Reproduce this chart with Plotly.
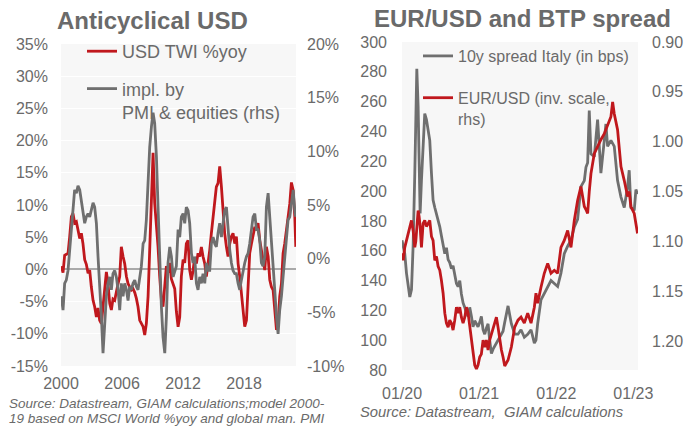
import plotly.graph_objects as go

# ---------------- Left chart: Anticyclical USD ----------------
left_years = [
    2000.03, 2000.2, 2000.36, 2000.52, 2000.69, 2000.85, 2001.02, 2001.18, 2001.34, 2001.51,
    2001.67, 2001.84, 2002.0, 2002.16, 2002.33, 2002.49, 2002.66, 2002.82, 2002.98, 2003.15,
    2003.31, 2003.48, 2003.64, 2003.8, 2003.97, 2004.13, 2004.3, 2004.46, 2004.62, 2004.79,
    2004.95, 2005.11, 2005.28, 2005.44, 2005.61, 2005.77, 2005.93, 2006.1, 2006.26, 2006.43,
    2006.59, 2006.75, 2006.92, 2007.08, 2007.25, 2007.41, 2007.57, 2007.74, 2007.9, 2008.07,
    2008.23, 2008.39, 2008.56, 2008.72, 2008.89, 2009.05, 2009.21, 2009.38, 2009.54, 2009.7,
    2009.87, 2010.03, 2010.2, 2010.36, 2010.52, 2010.69, 2010.85, 2011.02, 2011.18, 2011.34,
    2011.51, 2011.67, 2011.83, 2012.0, 2012.16, 2012.32, 2012.49, 2012.65, 2012.82, 2012.98,
    2013.14, 2013.31, 2013.47, 2013.64, 2013.8, 2013.96, 2014.13, 2014.29, 2014.46, 2014.62,
    2014.78, 2014.95, 2015.11, 2015.27, 2015.44, 2015.6, 2015.77, 2015.93, 2016.09, 2016.26,
    2016.42, 2016.59, 2016.75, 2016.91, 2017.08, 2017.24, 2017.41, 2017.57, 2017.73, 2017.9,
    2018.06, 2018.23, 2018.39, 2018.55, 2018.72, 2018.88, 2019.05, 2019.21, 2019.37, 2019.54,
    2019.7, 2019.86, 2020.03, 2020.19, 2020.36, 2020.52, 2020.68, 2020.85, 2021.01, 2021.18,
    2021.34, 2021.5, 2021.67, 2021.83, 2021.99, 2022.16, 2022.32, 2022.49, 2022.65, 2022.82,
    2022.98, 2023.08,
]
usd_twi_yoy = [
    0.5, -0.5, 2.2, 2.4, 2.5, 5.0, 8.2, 8.7, 7.2, 7.4,
    6.1, 4.8, 5.6, 4.0, 1.5, 0.8, -0.6, -0.1, -2.7, -4.8,
    -5.8, -7.4, -6.0, -7.9, -8.4, -5.8, -4.2, -0.4, -2.2, -5.3,
    -6.3, -4.6, -4.8, -3.2, -2.2, -1.1, 3.5, 2.0, 0.9, -1.1,
    -2.2, -2.7, -3.2, -3.0, -3.6, -4.5, -5.8, -7.9, -8.4, -8.9,
    -10.2, -8.4, -4.2, 3.5, 9.7, 18.1, 10.3, 7.2, 3.5, -1.1,
    -4.8, -5.8, -3.0, 0.5, -0.5, 1.0, -1.5, -2.5, -3.0, -6.5,
    -8.9, -7.4, -1.1, 1.5, 1.0, 4.0, 4.5, -0.1, -1.6, -0.2,
    1.9, 0.9, 2.5, 2.0, 3.5, 2.0, 0.9, -1.1, 0.9, 3.0,
    5.6, 8.2, 11.3, 12.8, 13.4, 16.0, 12.8, 8.2, 5.6, 3.5,
    2.0, 4.0, 5.1, 5.6, 4.0, 5.1, 0.9, -1.1, -3.7, -5.3,
    -8.9, -7.9, -2.7, 2.5, 4.0, 5.1, 6.6, 6.1, 7.2, 4.5,
    3.0, 2.0, -0.1, 3.5, 2.0, -1.6, -2.7, -3.2, -6.3, -9.4,
    -8.4, -4.2, -2.2, 2.5, 4.0, 6.1, 8.2, 10.2, 13.5, 12.3,
    8.2, 3.5,
]
impl_pmi_equities = [
    -3.5, -4.8, -2.3, -2.0, -1.1, 0.8, 2.7, 4.8, 6.4, 6.1,
    6.8, 6.4, 5.5, 4.5, 3.3, 3.9, 4.2, 3.9, 4.5, 5.2,
    4.8, 3.3, 0.2, -2.3, -5.4, -8.8, -6.0, -3.5, -2.3, -1.7,
    -2.9, -1.4, -1.1, -1.7, -2.9, -4.8, -2.3, -3.5, -2.3, -2.9,
    -3.9, -2.6, -2.9, -2.3, -2.0, -2.6, -2.9, -1.7, -0.7, 1.4,
    1.7, 3.6, 7.3, 10.4, 12.3, 13.6, 12.6, 9.5, 4.8, -0.4,
    -4.5, -7.3, -8.8, -5.4, -0.4, 1.1, 0.2, -1.7, -1.1, -0.7,
    2.7, 2.0, 3.9, 4.2, 3.3, 4.8, 4.5, 3.3, 0.5, -0.4,
    0.2, -2.3, -2.9, -1.7, -2.3, -1.4, -2.3, -0.4, -1.1, -1.1,
    1.4, 2.0, 1.4, 1.1, 2.4, 3.3, 2.0, 3.3, 4.5, 4.8,
    2.7, 0.8, -0.4, -1.1, -1.4, -1.4, -2.3, -2.9, -2.0, -1.1,
    -0.4, 0.2, 0.5, 1.4, 2.7, 3.9, 4.2, 2.7, 2.7, 1.7,
    -0.4, -0.7, 0.2, 4.8, 6.1, 3.9, 1.7, 0.2, -2.9, -5.4,
    -7.0, -4.8, -3.5, -1.7, -0.1, 2.0, 3.6, 3.9, 5.2, 6.4,
    4.5, 3.9,
]
left_xtick_vals = [2000, 2006, 2012, 2018]
left_xtick_text = ["2000", "2006", "2012", "2018"]
left_ytick_vals = [-15, -10, -5, 0, 5, 10, 15, 20, 25, 30, 35]
left_ytick_text = ["-15%", "-10%", "-5%", "0%", "5%", "10%", "15%", "20%", "25%", "30%", "35%"]
left_y2tick_vals = [-10, -5, 0, 5, 10, 15, 20]
left_y2tick_text = ["-10%", "-5%", "0%", "5%", "10%", "15%", "20%"]

# ---------------- Right chart: EUR/USD and BTP spread ----------------
right_dates = [
    2020.0, 2020.015, 2020.036, 2020.058, 2020.08, 2020.101, 2020.123, 2020.144, 2020.166, 2020.179,
    2020.192, 2020.209, 2020.222, 2020.235, 2020.252, 2020.274, 2020.295, 2020.317, 2020.339, 2020.36,
    2020.382, 2020.403, 2020.425, 2020.447, 2020.468, 2020.49, 2020.511, 2020.533, 2020.555, 2020.576,
    2020.598, 2020.619, 2020.641, 2020.662, 2020.684, 2020.706, 2020.727, 2020.749, 2020.77, 2020.792,
    2020.814, 2020.835, 2020.857, 2020.878, 2020.9, 2020.921, 2020.943, 2020.965, 2020.986, 2021.008,
    2021.029, 2021.051, 2021.073, 2021.094, 2021.116, 2021.137, 2021.159, 2021.181, 2021.202, 2021.224,
    2021.245, 2021.267, 2021.289, 2021.31, 2021.332, 2021.353, 2021.375, 2021.418, 2021.461, 2021.504,
    2021.543, 2021.586, 2021.63, 2021.673, 2021.716, 2021.737, 2021.759, 2021.802, 2021.845, 2021.889,
    2021.932, 2021.975, 2022.018, 2022.061, 2022.104, 2022.148, 2022.191, 2022.234, 2022.277, 2022.32,
    2022.364, 2022.385, 2022.407, 2022.428, 2022.45, 2022.493, 2022.536, 2022.558, 2022.579, 2022.623,
    2022.644, 2022.666, 2022.709, 2022.731, 2022.752, 2022.795, 2022.839, 2022.882, 2022.925, 2022.946,
    2022.968, 2023.011, 2023.033, 2023.054,
]
btp_spread_bps = [
    167, 163, 158, 145, 136, 129, 134, 163, 212, 245,
    282, 257, 201, 185, 207, 234, 252, 248, 239, 234,
    212, 194, 189, 185, 181, 176, 170, 164, 158, 162,
    154, 152, 148, 150, 144, 138, 136, 140, 131, 125,
    122, 118, 116, 122, 116, 109, 113, 111, 109, 112,
    116, 107, 104, 108, 111, 100, 91, 94, 96, 98,
    100, 102, 104, 106, 112, 118, 123, 111, 104, 104,
    107, 102, 104, 107, 98, 100, 111, 127, 131, 136,
    140, 138, 136, 145, 158, 163, 167, 176, 181, 203,
    207, 216, 219, 254, 225, 223, 248, 230, 212, 234,
    245, 230, 234, 232, 230, 207, 196, 189, 203, 214,
    189, 187, 201, 198,
]
eurusd = [
    1.112, 1.119, 1.106, 1.099, 1.092, 1.085, 1.079, 1.089, 1.106, 1.100,
    1.085, 1.069, 1.075, 1.085, 1.106, 1.082, 1.079, 1.085, 1.082, 1.079,
    1.095, 1.099, 1.119, 1.115, 1.125, 1.129, 1.139, 1.152, 1.172, 1.182,
    1.186, 1.179, 1.182, 1.189, 1.179, 1.166, 1.172, 1.166, 1.176, 1.182,
    1.176, 1.166, 1.172, 1.186, 1.199, 1.213, 1.224, 1.228, 1.224, 1.216,
    1.213, 1.199, 1.206, 1.199, 1.209, 1.199, 1.193, 1.186, 1.182, 1.176,
    1.186, 1.199, 1.209, 1.216, 1.225, 1.222, 1.219, 1.206, 1.186, 1.179,
    1.176, 1.182, 1.172, 1.182, 1.166, 1.152, 1.162, 1.146, 1.132, 1.122,
    1.132, 1.129, 1.132, 1.106, 1.099, 1.089, 1.106, 1.079, 1.059, 1.045,
    1.065, 1.068, 1.072, 1.050, 1.032, 1.012, 1.005, 1.000, 0.998, 0.992,
    0.988, 0.985, 0.975, 0.960, 0.972, 0.988, 1.025, 1.039, 1.055, 1.050,
    1.065, 1.072, 1.085, 1.092,
]
right_xtick_vals = [2020, 2021, 2022, 2023]
right_xtick_text = ["01/20", "01/21", "01/22", "01/23"]
right_ytick_vals = [80, 100, 120, 140, 160, 180, 200, 220, 240, 260, 280, 300]
right_y2tick_vals = [0.90, 0.95, 1.00, 1.05, 1.10, 1.15, 1.20]

# ---------------- styling ----------------
W, H = 686, 426
FONT = "Liberation Sans, Arial, sans-serif"
TXT = "#6a6a6a"
RED = "#c0181d"
GRAY = "#6f6f6f"
BG = "#f7f7f7"

def px_x(p):
    return p / W

def px_y(p):
    return 1 - p / H

fig = go.Figure()

fig.add_trace(go.Scatter(x=left_years, y=usd_twi_yoy, mode="lines", name="USD TWI %yoy",
                         line=dict(color=RED, width=2.8), xaxis="x", yaxis="y",
                         legend="legend", legendgroup="a"))
fig.add_trace(go.Scatter(x=left_years, y=impl_pmi_equities, mode="lines",
                         name="impl. by<br>PMI & equities (rhs)",
                         line=dict(color=GRAY, width=2.8), xaxis="x", yaxis="y2",
                         legend="legend", legendgroup="b"))
fig.add_trace(go.Scatter(x=right_dates, y=btp_spread_bps, mode="lines", name="10y spread Italy (in bps)",
                         line=dict(color=GRAY, width=2.8), xaxis="x2", yaxis="y3",
                         legend="legend2", legendgroup="c"))
fig.add_trace(go.Scatter(x=right_dates, y=eurusd, mode="lines", name="EUR/USD (inv. scale,<br>rhs)",
                         line=dict(color=RED, width=2.8), xaxis="x2", yaxis="y4",
                         legend="legend2", legendgroup="d"))

tickfont = dict(family=FONT, size=16, color=TXT)
common = dict(showgrid=False, zeroline=False, showline=False, ticks="", tickfont=tickfont,
              automargin=False, tickmode="array")

fig.update_layout(
    width=W, height=H,
    margin=dict(l=0, r=0, t=0, b=0, autoexpand=False),
    paper_bgcolor="white",
    plot_bgcolor=BG,
    font=dict(family=FONT, color=TXT),
    xaxis=dict(common, domain=[px_x(61), px_x(296)], anchor="y", range=[2000, 2023.1],
               tickvals=left_xtick_vals, ticktext=left_xtick_text, ticklabelstandoff=6),
    yaxis=dict(common, domain=[px_y(366), px_y(44)], anchor="x", range=[-15, 35],
               tickvals=left_ytick_vals, ticktext=left_ytick_text,
               showgrid=True, gridcolor="white", gridwidth=1,
               zeroline=True, zerolinecolor="#a9a9a9", zerolinewidth=1.5,
               ticklabelstandoff=12),
    yaxis2=dict(common, overlaying="y", side="right", anchor="x", range=[-10, 20],
                tickvals=left_y2tick_vals, ticktext=left_y2tick_text, ticklabelstandoff=10),
    xaxis2=dict(common, domain=[px_x(402), px_x(638)], anchor="y3", range=[2020, 2023.06],
                tickvals=right_xtick_vals, ticktext=right_xtick_text, ticklabelstandoff=12),
    yaxis3=dict(common, domain=[px_y(370), px_y(42)], anchor="x2", range=[80, 300],
                tickvals=right_ytick_vals, ticklabelstandoff=14),
    yaxis4=dict(common, overlaying="y3", side="right", anchor="x2", range=[1.229, 0.9],
                tickvals=right_y2tick_vals, tickformat=".2f", ticklabelstandoff=13),
    legend=dict(x=px_x(82), y=px_y(33), xanchor="left", yanchor="top",
                bgcolor="rgba(0,0,0,0)", font=dict(family=FONT, size=18, color=TXT),
                tracegroupgap=11, valign="top", itemwidth=30),
    legend2=dict(x=px_x(418), y=px_y(39), xanchor="left", yanchor="top",
                 bgcolor="rgba(0,0,0,0)", font=dict(family=FONT, size=16, color=TXT),
                 tracegroupgap=18, valign="top", itemwidth=30),
    showlegend=True,
)

annotations = [
    dict(text="<b>Anticyclical USD</b>", x=px_x(152), y=px_y(20), xref="paper", yref="paper",
         xanchor="center", yanchor="middle", showarrow=False,
         font=dict(family=FONT, size=24, color=TXT)),
    dict(text="<b>EUR/USD and BTP spread</b>", x=px_x(522), y=px_y(19), xref="paper", yref="paper",
         xanchor="center", yanchor="middle", showarrow=False,
         font=dict(family=FONT, size=24, color=TXT)),
    dict(text="<i>Source: Datastream, GIAM calculations;model 2000-</i>", x=px_x(7), y=px_y(403),
         xref="paper", yref="paper", xanchor="left", yanchor="middle", showarrow=False,
         font=dict(family=FONT, size=13.5, color=TXT)),
    dict(text="<i>19 based on MSCI World %yoy and global man. PMI</i>", x=px_x(7), y=px_y(418),
         xref="paper", yref="paper", xanchor="left", yanchor="middle", showarrow=False,
         font=dict(family=FONT, size=13.5, color=TXT)),
    dict(text="<i>Source: Datastream,  GIAM calculations</i>", x=px_x(358), y=px_y(412),
         xref="paper", yref="paper", xanchor="left", yanchor="middle", showarrow=False,
         font=dict(family=FONT, size=14.8, color=TXT)),
]
fig.update_layout(annotations=annotations)

fig.write_html("out.html",
               config={"displayModeBar": False},
               post_script="document.body.style.margin='0';document.body.style.padding='0';")
